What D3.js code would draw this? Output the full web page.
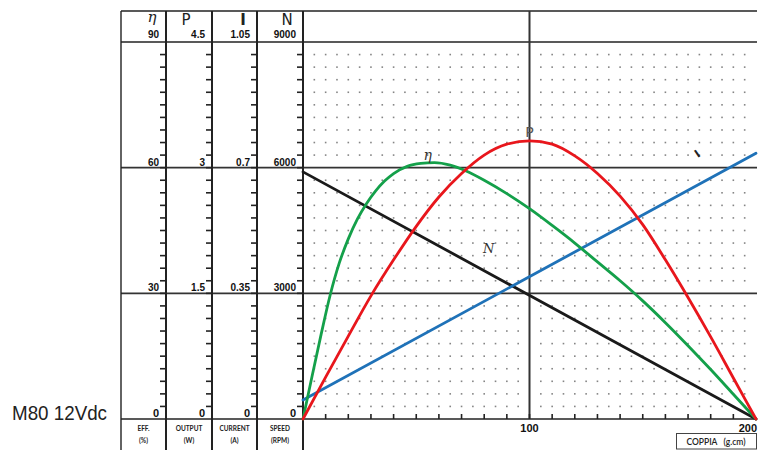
<!DOCTYPE html>
<html>
<head>
<meta charset="utf-8">
<script src="https://cdn.jsdelivr.net/npm/d3@7"></script>
<style>
  html, body { margin: 0; padding: 0; background: #fff; }
  svg { display: block; }
</style>
</head>
<body>
<svg id="chart" width="766" height="450"></svg>
<script>
// ─── Data ──────────────────────────────────────────────────────────────────
const modelLabel = "M80 12Vdc";
const xAxisTitle = "COPPIA   (g.cm)";
const xTickLabels = ["100", "200"];
const xTickValues = [100, 200];

// left-hand scale columns
const colSymbols   = ["η", "P", "I", "N"];
const colMaxima    = [90, 4.5, 1.05, 9000];
const colTickVals  = [[0, 30, 60, 90], [0, 1.5, 3, 4.5], [0, 0.35, 0.7, 1.05], [0, 3000, 6000, 9000]];
const colTickText  = [["0", "30", "60", "90"], ["0", "1.5", "3", "4.5"], ["0", "0.35", "0.7", "1.05"], ["0", "3000", "6000", "9000"]];
const colFootTop   = ["EFF.", "OUTPUT", "CURRENT", "SPEED"];
const colFootBot   = ["(%)", "(W)", "(A)", "(RPM)"];

// efficiency η (%)
const effTorque = [0, 4, 8, 12, 16, 20, 24, 28, 32, 36, 40, 46, 52, 58, 65, 72, 80, 90, 100, 110, 120, 130, 140, 150, 160, 170, 180, 190, 200];
const effValue  = [0, 10.2, 20.2, 29.6, 37.2, 43, 47.7, 51.4, 54.4, 56.8, 58.6, 60.3, 61, 61.2, 60.6, 59.2, 57, 53.8, 50.2, 46.2, 42, 37.5, 33, 28.2, 23, 17.5, 11.8, 5.9, 0];

// output power P (W)
const powTorque = [0, 10, 20, 30, 40, 50, 60, 70, 80, 90, 100, 110, 120, 130, 140, 150, 160, 170, 180, 190, 200];
const powValue  = [0, 0.5, 0.99, 1.47, 1.9, 2.3, 2.65, 2.93, 3.15, 3.28, 3.32, 3.28, 3.14, 2.93, 2.66, 2.32, 1.9, 1.45, 0.98, 0.49, 0];

// current I (A)
const curTorque = [0, 200];
const curValue  = [0.053, 0.74];

// speed N (rpm)
const spdTorque = [0, 200];
const spdValue  = [5900, 0];

// ─── Layout ────────────────────────────────────────────────────────────────
const frameLeft = 121, frameTop = 11, frameBottom = 450;
const colSeps   = [166, 212, 257, 303];
const symOffset = [14, 26, 14, 16];
const plotL = 303, plotR = 756, plotT = 42, plotB = 419;

const svg = d3.select("#chart");

const x    = d3.scaleLinear().domain([0, 200]).range([plotL, plotR]);
const yEff = d3.scaleLinear().domain([0, 90]).range([plotB, plotT]);
const colScales = colMaxima.map(m => d3.scaleLinear().domain([0, m]).range([plotB, plotT]));

const numFont = "'Liberation Sans Narrow', 'Arial Narrow', 'Liberation Sans', sans-serif";

// ─── Dot grid ──────────────────────────────────────────────────────────────
const dotX = d3.range(5, 200, 5).filter(v => v !== 100);
const dotY = d3.range(3, 90, 3).filter(v => v !== 30 && v !== 60);
const dots = [];
dotX.forEach(a => dotY.forEach(b => dots.push([a, b])));
svg.append("g")
  .selectAll("rect")
  .data(dots)
  .join("rect")
    .attr("x", d => x(d[0]) - 0.8)
    .attr("y", d => yEff(d[1]) - 0.8)
    .attr("width", 1.6)
    .attr("height", 1.6)
    .attr("fill", "#858585");

// ─── Frame & grid lines ────────────────────────────────────────────────────
const frame = svg.append("g").attr("stroke", "#222").attr("fill", "none");

// horizontal: top, header bottom (90), 60, 30, axis (0)
frame.append("line").attr("x1", frameLeft).attr("x2", plotR + 1)
  .attr("y1", frameTop).attr("y2", frameTop).attr("stroke-width", 1.6);
[90, 60, 30, 0].forEach(v => {
  frame.append("line")
    .attr("x1", frameLeft).attr("x2", plotR + 1)
    .attr("y1", yEff(v)).attr("y2", yEff(v))
    .attr("stroke-width", v === 0 || v === 90 ? 1.6 : 1.8)
    .attr("stroke", v === 30 || v === 60 ? "#333" : "#222");
});

// left border and column separators
frame.append("line").attr("x1", frameLeft).attr("x2", frameLeft)
  .attr("y1", frameTop).attr("y2", frameBottom).attr("stroke-width", 1.4);
colSeps.forEach(sx => {
  frame.append("line").attr("x1", sx).attr("x2", sx)
    .attr("y1", frameTop).attr("y2", frameBottom).attr("stroke-width", 2);
});

// vertical at torque 100
frame.append("line").attr("x1", x(100)).attr("x2", x(100))
  .attr("y1", frameTop).attr("y2", plotB).attr("stroke-width", 2).attr("stroke", "#333");

// column ticks (every 3 % on the efficiency scale)
const colTickPos = d3.range(3, 90, 3);
colSeps.forEach(sx => {
  frame.append("g")
    .selectAll("line")
    .data(colTickPos)
    .join("line")
      .attr("x1", sx - 6).attr("x2", sx)
      .attr("y1", d => yEff(d)).attr("y2", d => yEff(d))
      .attr("stroke-width", 1.6);
});

// x-axis ticks every 10
frame.append("g")
  .selectAll("line")
  .data(d3.range(10, 200, 10))
  .join("line")
    .attr("x1", d => x(d)).attr("x2", d => x(d))
    .attr("y1", plotB).attr("y2", plotB - 5)
    .attr("stroke-width", 1.6);

// ─── Curves ────────────────────────────────────────────────────────────────
const series = [
  { t: spdTorque, v: spdValue, scale: colScales[3], color: "#1a1a1a" },
  { t: curTorque, v: curValue, scale: colScales[2], color: "#1f72b8" },
  { t: effTorque, v: effValue, scale: colScales[0], color: "#14a04a" },
  { t: powTorque, v: powValue, scale: colScales[1], color: "#e8161c" }
];
series.forEach(s => {
  const pts = s.t.map((t, i) => [t, s.v[i]]);
  svg.append("path")
    .datum(pts)
    .attr("fill", "none")
    .attr("stroke", s.color)
    .attr("stroke-width", 2.8)
    .attr("stroke-linecap", "round")
    .attr("d", d3.line()
      .x(d => x(d[0]))
      .y(d => s.scale(d[1]))
      .curve(d3.curveMonotoneX));
});

// curve labels
svg.append("text").attr("x", x(100)).attr("y", colScales[1](3.32) - 4)
  .attr("text-anchor", "middle").attr("font-family", "'DejaVu Sans', sans-serif")
  .attr("font-size", 14).attr("fill", "#555").text("P");
svg.append("text").attr("x", x(55)).attr("y", yEff(61.2) - 3)
  .attr("text-anchor", "middle").attr("font-family", "'DejaVu Serif', serif")
  .attr("font-style", "italic").attr("font-size", 14).attr("fill", "#333").text("η");
svg.append("text").attr("x", x(82)).attr("y", yEff(40) + 2)
  .attr("text-anchor", "middle").attr("font-family", "'DejaVu Serif', serif")
  .attr("font-style", "italic").attr("font-size", 13).attr("fill", "#333").text("N");
svg.append("text")
  .attr("transform", `translate(${x(175)},${colScales[2](0.73)}) rotate(-35)`)
  .attr("text-anchor", "middle").attr("font-family", "'DejaVu Sans', sans-serif")
  .attr("font-weight", "bold").attr("font-size", 11).attr("fill", "#222").text("I");

// ─── Column headers & tick labels ──────────────────────────────────────────
colSeps.forEach((sx, i) => {
  // symbol
  svg.append("text")
    .attr("x", sx - symOffset[i]).attr("y", i === 0 ? 22 : 25)
    .attr("text-anchor", "middle")
    .attr("font-family", i === 0 ? "'DejaVu Serif', serif" : "'DejaVu Sans', sans-serif")
    .attr("font-style", i === 0 ? "italic" : "normal")
    .attr("font-weight", i === 2 ? "bold" : "normal")
    .attr("font-size", 15)
    .attr("fill", "#222")
    .text(colSymbols[i]);

  // tick labels
  colTickVals[i].forEach((v, j) => {
    svg.append("text")
      .attr("x", sx - 7)
      .attr("y", colScales[i](v) - (j === 3 ? 4 : 2))
      .attr("text-anchor", "end")
      .attr("font-family", numFont)
      .attr("font-weight", "bold")
      .attr("font-size", j === 0 ? 11 : 10)
      .attr("fill", "#111")
      .text(colTickText[i][j]);
  });

  // footer labels
  const cx = ((i === 0 ? frameLeft : colSeps[i - 1]) + sx) / 2;
  svg.append("text").attr("x", cx).attr("y", 431)
    .attr("text-anchor", "middle").attr("font-family", "Lato, 'Open Sans', sans-serif")
    .attr("font-weight", "bold").attr("font-size", 6.5).attr("fill", "#222")
    .text(colFootTop[i]);
  svg.append("text").attr("x", cx).attr("y", 443)
    .attr("text-anchor", "middle").attr("font-family", "Lato, 'Open Sans', sans-serif")
    .attr("font-weight", "bold").attr("font-size", 6.5).attr("fill", "#222")
    .text(colFootBot[i]);
});

// ─── X axis labels & title box ─────────────────────────────────────────────
xTickValues.forEach((v, i) => {
  svg.append("text")
    .attr("x", v === 200 ? x(v) + 1 : x(v))
    .attr("y", 432)
    .attr("text-anchor", v === 200 ? "end" : "middle")
    .attr("font-family", numFont)
    .attr("font-weight", "bold")
    .attr("font-size", 11)
    .attr("fill", "#111")
    .text(xTickLabels[i]);
});

svg.append("rect")
  .attr("x", 676.5).attr("y", 433.5).attr("width", 80).attr("height", 15.5)
  .attr("fill", "#fff").attr("stroke", "#444").attr("stroke-width", 1);
svg.append("text")
  .attr("x", 716).attr("y", 444.5)
  .attr("text-anchor", "middle")
  .attr("font-family", "Lato, 'Open Sans', sans-serif")
  .attr("font-weight", 600).attr("font-size", 8.5).attr("fill", "#222")
  .style("white-space", "pre")
  .text(xAxisTitle);

// ─── Model label ───────────────────────────────────────────────────────────
svg.append("text")
  .attr("x", 12).attr("y", 420)
  .attr("font-family", "'Liberation Sans Narrow', 'Liberation Sans', Arial, sans-serif")
  .attr("font-size", 21)
  .attr("fill", "#222")
  .attr("textLength", 95)
  .attr("lengthAdjust", "spacingAndGlyphs")
  .text(modelLabel);
</script>
</body>
</html>
